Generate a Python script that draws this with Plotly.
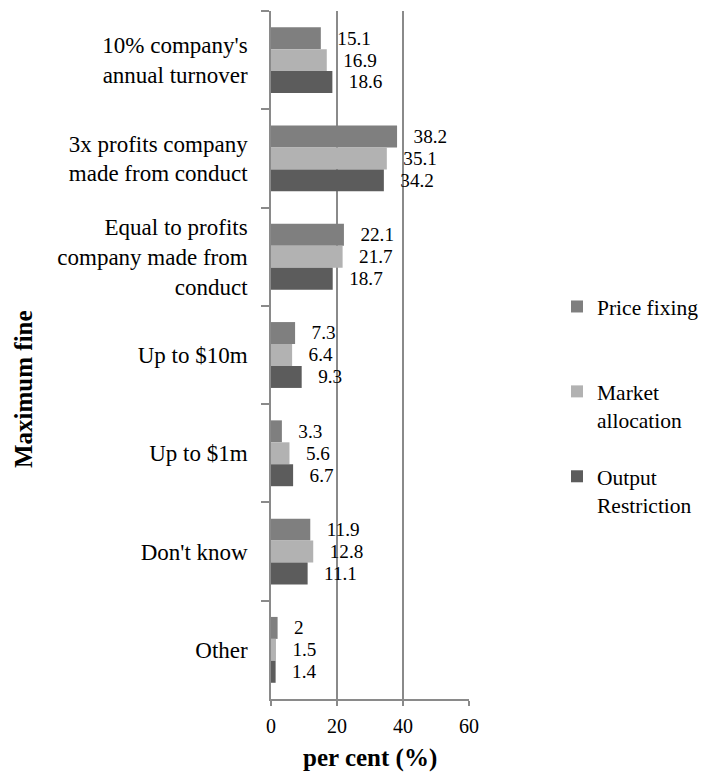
import plotly.graph_objects as go

categories = ["10% company's<br>annual turnover",
              "3x profits company<br>made from conduct",
              "Equal to profits<br>company made from<br>conduct",
              "Up to $10m",
              "Up to $1m",
              "Don't know",
              "Other"]
price_fixing = [15.1, 38.2, 22.1, 7.3, 3.3, 11.9, 2]
market_allocation = [16.9, 35.1, 21.7, 6.4, 5.6, 12.8, 1.5]
output_restriction = [18.6, 34.2, 18.7, 9.3, 6.7, 11.1, 1.4]
series_names = ["Price fixing<br>\u00a0", "Market<br>allocation", "Output<br>Restriction"]
colors = ["#7f7f7f", "#b2b2b2", "#5c5c5c"]

FONT = "Liberation Serif, Times New Roman, serif"
pad = "\u00a0\u00a0\u2009"

# plot area in figure pixels
L, R, T, B = 263, 461, 3, 691
W, H = R - L, B - T

def px_x(x):
    return (x - L) / W

def px_y(y):
    return (B - y) / H

fig = go.Figure()
for name, vals, col in zip(series_names, [price_fixing, market_allocation, output_restriction], colors):
    fig.add_trace(go.Bar(
        y=categories, x=vals, name=name, orientation="h",
        marker=dict(color=col, line=dict(width=0)),
        text=[pad + (f"{v:g}") for v in vals],
        textposition="outside", cliponaxis=False,
        textfont=dict(family=FONT, size=21, color="black"),
        legendgroup=name,
    ))

fig.update_layout(
    width=708, height=772,
    margin=dict(l=L, r=708 - R, t=T, b=772 - B, autoexpand=False),
    paper_bgcolor="white", plot_bgcolor="white",
    barmode="group", bargap=0.33, bargroupgap=0,
    font=dict(family=FONT, size=21, color="black"),
    showlegend=True,
    legend=dict(x=px_x(549), xanchor="left", y=px_y(278), yanchor="top",
                valign="top",
                font=dict(family=FONT, size=21.5, color="black"),
                tracegroupgap=26, itemwidth=30, bgcolor="rgba(0,0,0,0)"),
    annotations=[
        dict(text="<b>per cent (%)</b>", xref="paper", yref="paper",
             x=0.5, y=px_y(750), xanchor="center", yanchor="middle",
             showarrow=False, font=dict(family=FONT, size=25, color="black")),
        dict(text="<b>Maximum fine</b>", xref="paper", yref="paper",
             x=px_x(15), y=px_y(381), xanchor="center", yanchor="middle",
             textangle=-90, showarrow=False, font=dict(family=FONT, size=25, color="black")),
    ],
)
fig.update_xaxes(range=[0, 60], tickvals=[0, 20, 40, 60], automargin=False,
                 showgrid=True, gridcolor="#8a8a8a", gridwidth=1.5,
                 showline=True, linecolor="#8a8a8a", linewidth=1.5,
                 ticks="outside", ticklen=5, tickcolor="#8a8a8a", tickwidth=1.5,
                 ticklabelstandoff=3,
                 tickfont=dict(family=FONT, size=20, color="black"),
                 zeroline=False)
fig.update_yaxes(autorange="reversed", type="category", automargin=False,
                 showgrid=False, showline=True, linecolor="#8a8a8a", linewidth=1.5,
                 ticks="outside", tickson="boundaries", ticklen=8, tickcolor="#8a8a8a", tickwidth=1.5,
                 ticklabelstandoff=17,
                 tickfont=dict(family=FONT, size=23, color="black"))
fig.write_html("out.html")
